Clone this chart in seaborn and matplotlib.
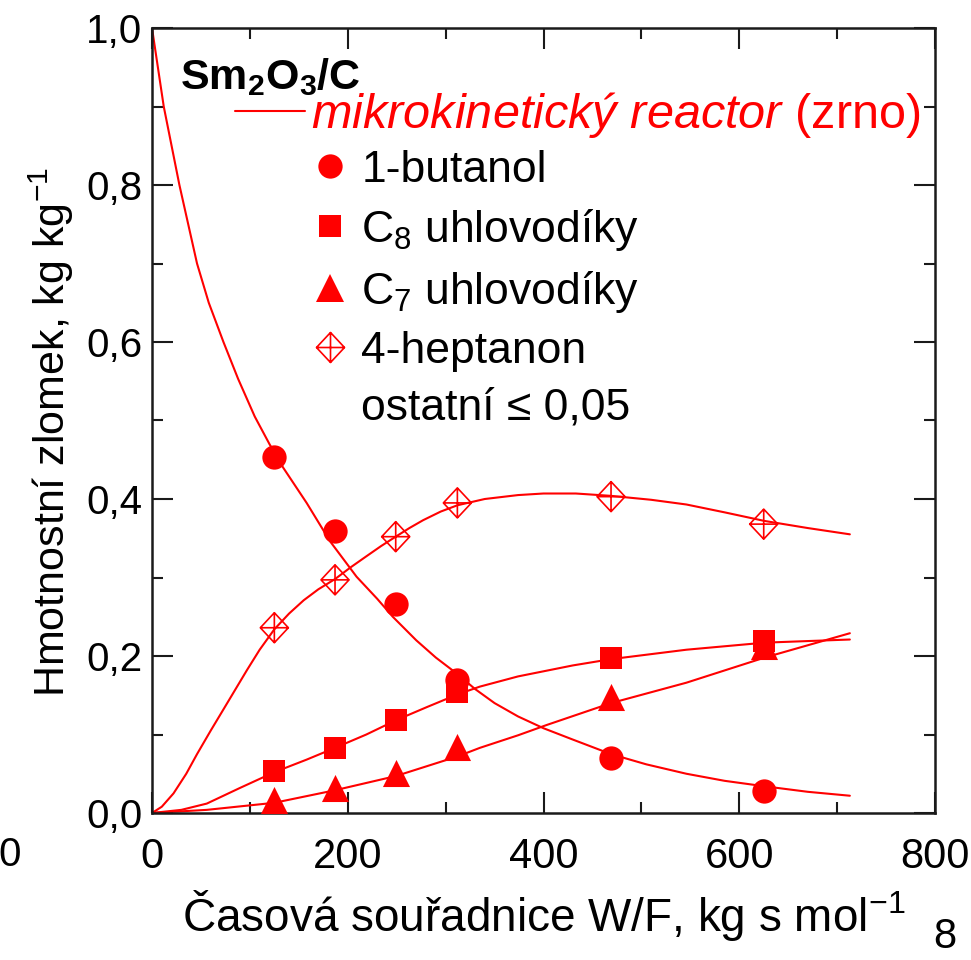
import matplotlib
matplotlib.use("Agg")
import matplotlib.pyplot as plt
import seaborn as sns
from matplotlib.path import Path
from matplotlib.lines import Line2D
from matplotlib.ticker import FixedLocator, FixedFormatter, MultipleLocator

# ---------------- data ----------------
wf_exp = [125, 187, 249, 312, 469, 625]
butanol_exp = [0.453, 0.359, 0.266, 0.170, 0.070, 0.028]
c8_exp = [0.053, 0.083, 0.118, 0.154, 0.198, 0.219]
c7_exp = [0.017, 0.032, 0.051, 0.084, 0.148, 0.213]
heptanon_exp = [0.236, 0.297, 0.352, 0.395, 0.403, 0.368]

butanol_fit_x = [0, 6, 12, 20, 28, 37, 46, 58, 73, 88, 105, 120, 134, 158, 182, 209, 230,
                 246, 270, 290, 311, 330, 350, 374, 400, 429, 469, 505, 546, 585, 626, 670, 713]
butanol_fit_y = [1.0, 0.95, 0.9, 0.85, 0.8, 0.75, 0.7, 0.65, 0.6, 0.553, 0.505, 0.47, 0.44, 0.395,
                 0.346, 0.301, 0.273, 0.25, 0.22, 0.198, 0.178, 0.158, 0.14, 0.123, 0.108,
                 0.094, 0.075, 0.062, 0.05, 0.041, 0.034, 0.027, 0.022]

heptanon_fit_x = [0, 10, 22, 35, 46, 60, 73, 85, 97, 110, 125, 140, 155, 170, 187, 203, 219,
                  234, 249, 263, 277, 295, 312, 340, 374, 400, 433, 469, 510, 546, 585, 626, 670, 713]
heptanon_fit_y = [0.0, 0.008, 0.025, 0.05, 0.075, 0.105, 0.132, 0.157, 0.182, 0.208, 0.234,
                  0.254, 0.271, 0.285, 0.298, 0.313, 0.327, 0.34, 0.352, 0.363, 0.373, 0.384,
                  0.392, 0.4, 0.405, 0.407, 0.407, 0.404, 0.399, 0.393, 0.383, 0.372, 0.363, 0.355]

c8_fit_x = [0, 30, 56, 90, 125, 158, 187, 219, 249, 281, 312, 335, 374, 430, 469, 546, 626, 713]
c8_fit_y = [0.0, 0.004, 0.012, 0.032, 0.052, 0.068, 0.083, 0.1, 0.118, 0.135, 0.151, 0.161,
            0.174, 0.188, 0.196, 0.208, 0.217, 0.221]

c7_fit_x = [0, 56, 125, 187, 249, 312, 335, 374, 403, 469, 546, 626, 713]
c7_fit_y = [0.0, 0.004, 0.013, 0.029, 0.047, 0.072, 0.083, 0.099, 0.112, 0.14, 0.166, 0.198, 0.229]

x_ticks = [0, 200, 400, 600, 800]
x_tick_labels = ["0", "200", "400", "600", "800"]
y_ticks = [0.0, 0.2, 0.4, 0.6, 0.8, 1.0]
y_tick_labels = ["0,0", "0,2", "0,4", "0,6", "0,8", "1,0"]

legend_labels = ["1-butanol", "C$_8$ uhlovodíky", "C$_7$ uhlovodíky", "4-heptanon", "ostatní ≤ 0,05"]
model_label = r"$\mathit{mikrokinetický\ reactor}$ (zrno)"
title_text = r"$\mathbf{Sm_2O_3/C}$"
x_label = "Časová souřadnice W/F, kg s mol$^{-1}$"
y_label = "Hmotnostní zlomek, kg kg$^{-1}$"

# ---------------- style ----------------
sns.set_style("ticks")
plt.rcParams["font.family"] = ["Liberation Sans", "DejaVu Sans"]
plt.rcParams["mathtext.fontset"] = "custom"
plt.rcParams["mathtext.rm"] = "Liberation Sans"
plt.rcParams["mathtext.it"] = "Liberation Sans:italic"
plt.rcParams["mathtext.bf"] = "Liberation Sans:bold"
plt.rcParams["text.color"] = "black"
plt.rcParams["axes.labelcolor"] = "black"
plt.rcParams["xtick.color"] = "black"
plt.rcParams["ytick.color"] = "black"

RED = "#ff0000"
INK = "#1a1a1a"

fig = plt.figure(figsize=(9.71, 9.6), dpi=100)
ax = fig.add_axes([152 / 971, 1 - 813 / 960, 783 / 971, 785 / 960])

# diamond with cross marker
dc_path = Path(
    [(0, 1.07), (1, 0), (0, -1.07), (-1, 0), (0, 1.07),
     (0, 1.07), (0, -1.07), (-1, 0), (1, 0)],
    [Path.MOVETO, Path.LINETO, Path.LINETO, Path.LINETO, Path.CLOSEPOLY,
     Path.MOVETO, Path.LINETO, Path.MOVETO, Path.LINETO])

# model curves
for fx, fy in [(butanol_fit_x, butanol_fit_y), (heptanon_fit_x, heptanon_fit_y),
               (c8_fit_x, c8_fit_y), (c7_fit_x, c7_fit_y)]:
    sns.lineplot(x=fx, y=fy, ax=ax, color=RED, linewidth=1.5, sort=False,
                 estimator=None, zorder=2)

# experimental points
sns.scatterplot(x=wf_exp, y=butanol_exp, ax=ax, marker="o", s=17.5 ** 2,
                color=RED, linewidth=0, zorder=3)
sns.scatterplot(x=wf_exp, y=c8_exp, ax=ax, marker="s", s=15.5 ** 2,
                color=RED, linewidth=0, zorder=3)
sns.scatterplot(x=wf_exp, y=c7_exp, ax=ax, marker="^", s=19.5 ** 2,
                color=RED, linewidth=0, zorder=3)
sns.scatterplot(x=wf_exp, y=heptanon_exp, ax=ax, marker=dc_path, s=21.6 ** 2,
                facecolor="none", edgecolor=RED, linewidth=1.2, zorder=3)

# axes
ax.set_xlim(0, 800)
ax.set_ylim(0, 1.0)
ax.xaxis.set_major_locator(FixedLocator(x_ticks))
ax.xaxis.set_major_formatter(FixedFormatter(x_tick_labels))
ax.yaxis.set_major_locator(FixedLocator(y_ticks))
ax.yaxis.set_major_formatter(FixedFormatter(y_tick_labels))
ax.xaxis.set_minor_locator(MultipleLocator(100))
ax.yaxis.set_minor_locator(MultipleLocator(0.1))
ax.tick_params(which="both", direction="in", top=True, right=True,
               width=1.5, color=INK, labelcolor="black")
ax.tick_params(which="major", length=15)
ax.tick_params(which="minor", length=8)
ax.tick_params(axis="x", which="major", labelsize=30, pad=17)
ax.tick_params(axis="y", which="major", labelsize=29, pad=7)
for sp in ax.spines.values():
    sp.set_linewidth(1.8)
    sp.set_color(INK)
    sp.set_visible(True)

ax.set_xlabel(x_label, fontsize=33, color="black")
ax.set_ylabel(y_label, fontsize=31, color="black")
ax.xaxis.set_label_coords(0.5, -0.096)
ax.yaxis.set_label_coords(-0.097, 0.485)

# title
ax.text(0.036, 0.937, title_text, transform=ax.transAxes, fontsize=31,
        ha="left", va="center", color="black")

# model line legend
leg_line = ax.legend(handles=[Line2D([], [], color=RED, lw=1.5)], labels=[model_label],
                     loc="center left", bbox_to_anchor=(0.106, 0.889), frameon=False,
                     fontsize=35, labelcolor=RED, handlelength=1.45, handletextpad=0.12,
                     borderpad=0, borderaxespad=0)
ax.add_artist(leg_line)

# marker legend
handles = [
    Line2D([], [], ls="none", marker="o", ms=17.5, color=RED, mew=0),
    Line2D([], [], ls="none", marker="s", ms=15.5, color=RED, mew=0),
    Line2D([], [], ls="none", marker="^", ms=19.5, color=RED, mew=0),
    Line2D([], [], ls="none", marker=dc_path, ms=21.6, mfc="none", mec=RED, mew=1.2),
    Line2D([], [], ls="none", marker=None),
]
ax.legend(handles=handles, labels=legend_labels, loc="upper left",
          bbox_to_anchor=(0.199, 0.845), frameon=False, fontsize=32,
          handlelength=1.0, handletextpad=0.2, labelspacing=0.36,
          borderpad=0, borderaxespad=0)

# stray page texts
fig.text(10 / 971, 1 - 855 / 960, "0", fontsize=29, ha="center", va="center")
fig.text(945 / 971, 1 - 937 / 960, "8", fontsize=30, ha="center", va="center")

fig.savefig("out.png", dpi=100)
